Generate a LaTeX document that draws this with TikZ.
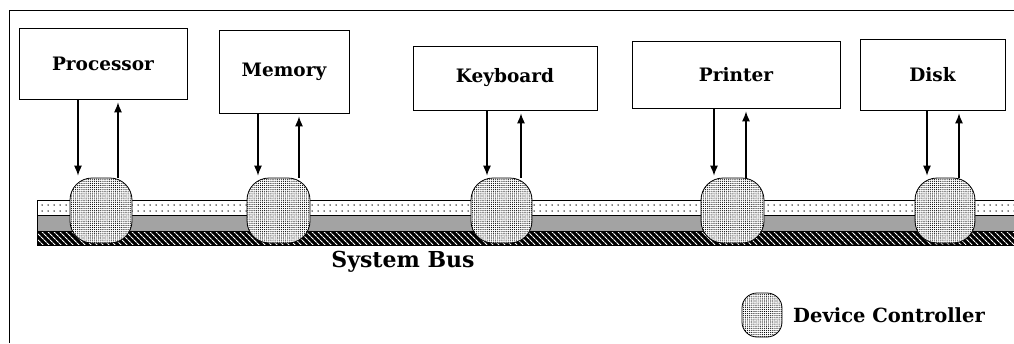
\documentclass[tikz,border=0pt]{standalone}
\usepackage{fontspec}
\setmainfont{DejaVu Serif}
\usepackage{tikz}
\usetikzlibrary{arrows.meta, patterns.meta}
\tikzstyle{device} = [rectangle, draw=black, thick, fill=white, font=\fontsize{18.5}{22}\selectfont\bfseries, inner sep=0pt]
\tikzstyle{ctrl} = [rectangle, rounded corners=22pt, draw=black, thick, fill=white, minimum height=65pt, inner sep=0pt, postaction={pattern={Dots[distance=2.1pt, radius=0.6pt]}, pattern color=black}]
\tikzstyle{flow} = [line width=1.1pt, -{Latex[length=10pt, width=8pt]}, color=black]

\begin{document}
\begin{tikzpicture}[x=1pt, y=-1pt]
\useasboundingbox (0,0) rectangle (1014,343);
\draw[thick] (1014,10) -- (9,10) -- (9,343);

% system bus layers
\path[fill=white, pattern={Dots[distance=6pt, radius=0.75pt]}, pattern color=black] (37,200) rectangle (1014,215);
\path[fill=gray!45] (37,215) rectangle (1014,231);
\path[pattern={Dots[distance=2pt, radius=0.55pt]}, pattern color=black!80] (37,215) rectangle (1014,231);
\path[fill=black] (37,231) rectangle (1014,245);
\path[pattern={Lines[angle=-45, distance=4pt, line width=1.2pt]}, pattern color=white] (37,231) rectangle (1014,245);
\draw[thick] (1014,200) -- (37,200) -- (37,245) -- (1014,245);
\draw (37,215) -- (1014,215);
\draw (37,231) -- (1014,231);

\node (proc) [device, minimum width=168pt, minimum height=71pt] at (103,63.5) {Processor};
\node (mem)  [device, minimum width=130pt, minimum height=83pt] at (284,71.5) {Memory};
\node (keyb) [device, minimum width=184pt, minimum height=64pt] at (505,78) {Keyboard};
\node (prin) [device, minimum width=208pt, minimum height=67pt] at (736,74.5) {Printer};
\node (disk) [device, minimum width=145pt, minimum height=71pt] at (932.5,74.5) {Disk};

\node (procc) [ctrl, minimum width=62pt] at (101,210.5) {};
\node (memc)  [ctrl, minimum width=63pt] at (278.5,210.5) {};
\node (keybc) [ctrl, minimum width=61pt] at (501.5,210.5) {};
\node (princ) [ctrl, minimum width=63pt] at (732.5,210.5) {};
\node (diskc) [ctrl, minimum width=60pt] at (945,210.5) {};

\draw[flow, shorten >=2pt] ([xshift=-25pt]proc.south) -- ([xshift=-25pt]proc.south |- procc.north);
\draw[flow, shorten >=3pt] ([xshift=15pt]proc.south |- procc.north) -- ([xshift=15pt]proc.south);
\draw[flow, shorten >=2pt] ([xshift=-26pt]mem.south) -- ([xshift=-26pt]mem.south |- memc.north);
\draw[flow, shorten >=3pt] ([xshift=15pt]mem.south |- memc.north) -- ([xshift=15pt]mem.south);
\draw[flow, shorten >=2pt] ([xshift=-18pt]keyb.south) -- ([xshift=-18pt]keyb.south |- keybc.north);
\draw[flow, shorten >=3pt] ([xshift=16pt]keyb.south |- keybc.north) -- ([xshift=16pt]keyb.south);
\draw[flow, shorten >=2pt] ([xshift=-22pt]prin.south) -- ([xshift=-22pt]prin.south |- princ.north);
\draw[flow, shorten >=3pt] ([xshift=10pt]prin.south |- princ.north) -- ([xshift=10pt]prin.south);
\draw[flow, shorten >=2pt] ([xshift=-5.5pt]disk.south) -- ([xshift=-5.5pt]disk.south |- diskc.north);
\draw[flow, shorten >=3pt] ([xshift=26.5pt]disk.south |- diskc.north) -- ([xshift=26.5pt]disk.south);

\node (bus) [font=\fontsize{22}{26}\selectfont\bfseries] at (403,262) {System Bus};

% legend
\node (key) [ctrl, rounded corners=15pt, minimum width=40pt, minimum height=44pt] at (762,315) {};
\node (keytext) [anchor=west, font=\fontsize{19.5}{23}\selectfont\bfseries, inner sep=0pt] at (793,315) {Device Controller};
\end{tikzpicture}
\end{document}
